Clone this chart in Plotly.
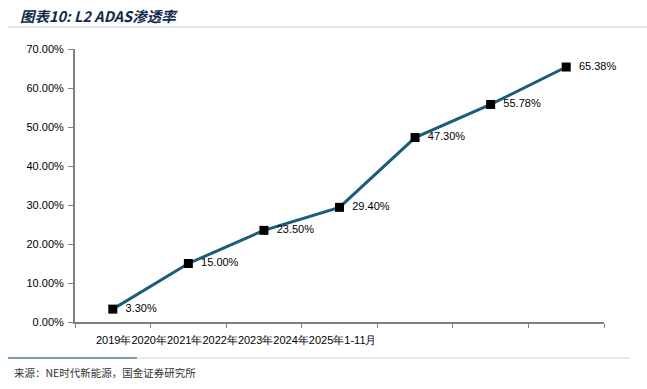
import plotly.graph_objects as go

categories = ["2019年", "2020年", "2021年", "2022年", "2023年", "2024年", "2025年1-11月"]
penetration = [0.033, 0.15, 0.235, 0.294, 0.473, 0.5578, 0.6538]
value_labels = ["3.30%", "15.00%", "23.50%", "29.40%", "47.30%", "55.78%", "65.38%"]
y_ticks = [0, 0.1, 0.2, 0.3, 0.4, 0.5, 0.6, 0.7]

FONT = "Liberation Sans, Arial, sans-serif"

W, H = 647, 389
L, T, R, B = 75, 49, W - 604, H - 322
plot_w = W - L - R
plot_h = H - T - B

def px_x(px):  # page px -> paper x
    return (px - L) / plot_w

def px_y(py):  # page px -> paper y
    return (H - B - py) / plot_h

fig = go.Figure()
fig.add_trace(go.Scatter(
    x=categories, y=penetration, mode="lines+markers+text",
    line=dict(color="#1B5C7B", width=3),
    marker=dict(symbol="square", size=9, color="#000000"),
    text=["  " + t for t in value_labels], textposition="middle right",
    textfont=dict(family=FONT, size=11, color="#000000"),
    cliponaxis=False, showlegend=False, hoverinfo="skip",
))

fig.update_layout(
    width=W, height=H,
    margin=dict(l=L, r=R, t=T, b=B),
    paper_bgcolor="white", plot_bgcolor="white",
    font=dict(family=FONT, size=11, color="#000000"),
    xaxis=dict(
        type="category", categoryorder="array", categoryarray=categories,
        tickson="boundaries", ticks="outside", ticklen=4, tickcolor="#808080",
        showline=True, linecolor="#808080", linewidth=2,
        showgrid=False, showticklabels=False, zeroline=False,
        range=[-0.5, 6.5],
    ),
    yaxis=dict(
        range=[0, 0.7], tickvals=y_ticks, tickformat=".2%",
        ticks="outside", ticklen=5, tickcolor="#808080",
        showline=True, linecolor="#808080", linewidth=2,
        showgrid=False, zeroline=False,
        tickfont=dict(family=FONT, size=11, color="#000000"),
        ticklabelstandoff=2,
    ),
)

# Category labels rendered contiguously as in the reference
fig.add_annotation(
    x=categories[0], xref="x", y=0, yref="paper",
    xanchor="left", yanchor="top", xshift=-19, yshift=-10,
    text="".join(categories), showarrow=False,
    font=dict(family=FONT, size=11, color="#000000"),
)

# Title
fig.add_annotation(
    x=px_x(18), y=px_y(16), xref="paper", yref="paper",
    xanchor="left", yanchor="middle", showarrow=False,
    text="<b><i>图表10: L2 ADAS渗透率</i></b>",
    font=dict(family="Noto Sans CJK SC, sans-serif", size=14.5, color="#0F2B4A"),
)

# Source
fig.add_annotation(
    x=px_x(12), y=px_y(372), xref="paper", yref="paper",
    xanchor="left", yanchor="middle", showarrow=False,
    text="来源：NE时代新能源，国金证券研究所",
    font=dict(family="Noto Sans CJK SC, sans-serif", size=10.5, color="#333333"),
)

# Decorative rules
fig.add_shape(type="line", xref="paper", yref="paper",
              x0=px_x(8), x1=px_x(647), y0=px_y(27), y1=px_y(27),
              line=dict(color="#D5DDE3", width=1.5))
fig.add_shape(type="line", xref="paper", yref="paper",
              x0=px_x(8), x1=px_x(137), y0=px_y(358), y1=px_y(358),
              line=dict(color="#4D7F92", width=1.5))
fig.add_shape(type="line", xref="paper", yref="paper",
              x0=px_x(137), x1=px_x(630), y0=px_y(358), y1=px_y(358),
              line=dict(color="#DDE4E8", width=1.5))

fig.write_html("out.html", config={"displayModeBar": False},
               post_script="document.body.style.margin='0';")
